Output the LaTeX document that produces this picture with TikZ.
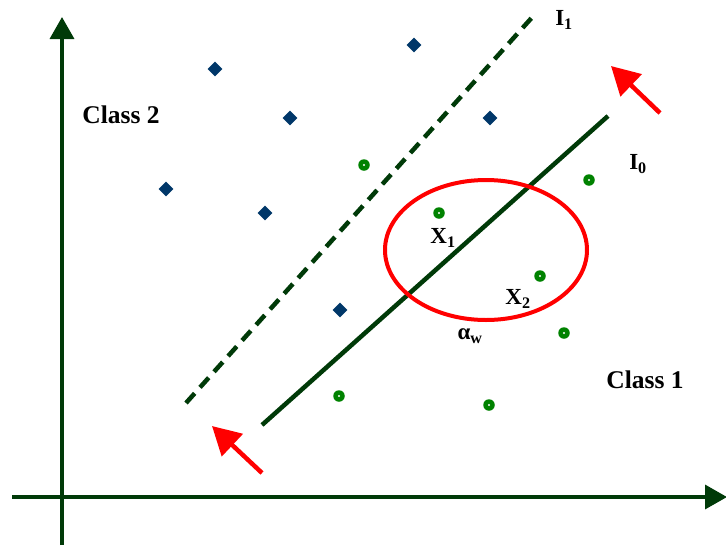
\documentclass[tikz,border=0pt]{standalone}
\usepackage{fontspec}
\setmainfont{Liberation Serif}
\usetikzlibrary{arrows.meta,shapes.geometric}
\definecolor{axisgreen}{RGB}{0,58,8}
\definecolor{dotgreen}{RGB}{0,130,0}
\definecolor{diamblue}{RGB}{0,55,105}
\definecolor{arrred}{RGB}{255,0,0}
\tikzset{
  axisline/.style={draw=axisgreen, line width=3.5pt, -{Triangle[length=22pt,width=24pt]}},
  redarrow/.style={draw=arrred, line width=4.5pt, -{Triangle[length=28pt,width=30pt]}},
  sepline/.style={draw=axisgreen, line width=4.5pt},
  lbl/.style={font=\fontsize{25.5}{27}\selectfont\bfseries, inner sep=0pt},
  sublbl/.style={font=\fontsize{23}{25}\selectfont\bfseries, inner sep=0pt},
  gdot/.style={circle, fill=dotgreen, minimum size=11.5pt, inner sep=0pt,
    path picture={\fill[white] (path picture bounding box.center) circle (1.2pt);}},
  bdia/.style={diamond, fill=diamblue, minimum size=15pt, inner sep=0pt}
}
\begin{document}
\begin{tikzpicture}[x=1pt,y=-1pt]
\useasboundingbox (0,0) rectangle (726,547);
% axes
\coordinate (ybot) at (62,545);
\coordinate (ytop) at (62,17);
\coordinate (xl) at (12,497);
\coordinate (xr) at (727,497);
\draw[axisline] (ybot) -- (ytop);
\draw[axisline] (xl) -- (xr);
% separating lines
\coordinate (l0a) at (262,425);
\coordinate (l0b) at (608,116);
\coordinate (l1a) at (186,403);
\coordinate (l1b) at (536,13);
\draw[sepline] (l0a) -- (l0b);
\draw[sepline, dash pattern=on 13pt off 8pt] (l1a) -- (l1b);
% red arrows
\coordinate (ra1) at (660,113);
\coordinate (ra2) at (611,66);
\coordinate (rb1) at (262,473);
\coordinate (rb2) at (212,426);
\draw[redarrow] (ra1) -- (ra2);
\draw[redarrow] (rb1) -- (rb2);
% ellipse
\node[draw=arrred, line width=4pt, ellipse, minimum width=202pt, minimum height=140pt, inner sep=0pt] (ell) at (486,250) {};
% class 1 points
\node[gdot] (g1) at (364,165) {};
\node[gdot] (g2) at (589,180) {};
\node[gdot] (g3) at (439,213) {};
\node[gdot] (g4) at (540,276) {};
\node[gdot] (g5) at (564,333) {};
\node[gdot] (g6) at (339,396) {};
\node[gdot] (g7) at (489,405) {};
% class 2 points
\node[bdia] (b1) at (215,69) {};
\node[bdia] (b2) at (414,45) {};
\node[bdia] (b3) at (290,118) {};
\node[bdia] (b4) at (490,118) {};
\node[bdia] (b5) at (166,189) {};
\node[bdia] (b6) at (265,213) {};
\node[bdia] (b7) at (340,310) {};
% labels
\node[lbl] (c2) at (121,115) {Class 2};
\node[lbl] (c1) at (645,380) {Class 1};
\node[sublbl] (i1) at (564,20) {I\textsubscript{1}};
\node[sublbl] (i0) at (638,164) {I\textsubscript{0}};
\node[sublbl] (x1) at (443,238) {X\textsubscript{1}};
\node[sublbl] (x2) at (518,299) {X\textsubscript{2}};
\node[sublbl] (aw) at (470,336) {α\textsubscript{w}};
\end{tikzpicture}
\end{document}
